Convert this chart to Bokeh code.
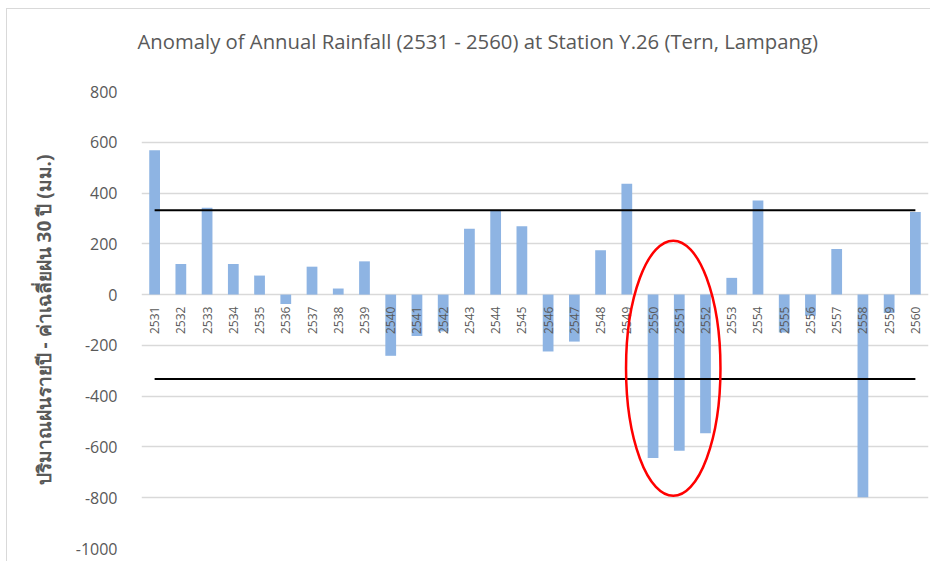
from bokeh.plotting import figure
from bokeh.models import Range1d, FactorRange, FixedTicker, ColumnDataSource, Title
from bokeh.transform import dodge
from bokeh.core.properties import value
from bokeh.embed import file_html
from bokeh.resources import INLINE
import math

years = [str(y) for y in range(2531, 2561)]
anomaly = [569, 121, 342, 121, 75, -37, 110, 24, 131, -241,
           -163, -145, 259, 331, 269, -224, -185, 175, 437, -644,
           -615, -546, 66, 371, -149, -83, 180, -798, -72, 325]
upper_limit = [332] * len(years)
lower_limit = [-332] * len(years)
y_ticks = [800, 600, 400, 200, 0, -200, -400, -600, -800, -1000]
highlight_center = "2551"

TITLE = "Anomaly of Annual Rainfall (2531 - 2560) at Station Y.26 (Tern, Lampang)"
YLABEL = "ปริมาณฝนรายปี - ค่าเฉลี่ยฝน 30 ปี (มม.)"
GRAY = "#595959"

src = ColumnDataSource(dict(year=years, val=anomaly, up=upper_limit, lo=lower_limit))

p = figure(width=924, height=553, output_backend="svg", toolbar_location=None,
           title=None,
           x_range=FactorRange(factors=years, range_padding=0),
           y_range=Range1d(-1000, 800),
           min_border_left=134, min_border_right=3, min_border_top=82, min_border_bottom=14)

# spacer between frame and title (nearest to the frame)
p.add_layout(Title(text=" ", text_font_size="14px", standoff=19,
                   text_color="#ffffff"), "above")
p.add_layout(Title(text=TITLE, align="left", offset=-4, standoff=0,
                   text_font="Open Sans", text_font_size="20.3px",
                   text_font_style="normal", text_color=GRAY), "above")

p.outline_line_color = None
p.xaxis.visible = False
p.xgrid.grid_line_color = None
p.ygrid.grid_line_color = "#d9d9d9"
p.ygrid.grid_line_width = 1.3
p.yaxis.ticker = FixedTicker(ticks=y_ticks)
p.yaxis.major_label_overrides = {t: str(t) for t in y_ticks}
p.yaxis.axis_line_color = None
p.yaxis.major_tick_line_color = None
p.yaxis.minor_tick_line_color = None
p.yaxis.major_label_standoff = 18
p.yaxis.major_label_text_font = "Open Sans"
p.yaxis.major_label_text_font_size = "16px"
p.yaxis.major_label_text_color = GRAY
p.yaxis.axis_label = YLABEL
p.yaxis.axis_label_text_font = "Noto Sans"
p.yaxis.axis_label_text_font_size = "19px"
p.yaxis.axis_label_text_font_style = "bold"
p.yaxis.axis_label_text_color = GRAY
p.yaxis.axis_label_standoff = 16

p.vbar(x="year", top="val", bottom=0, width=0.41, source=src,
       fill_color="#8EB4E3", line_color=None)

p.text(x="year", y=0, text="year", source=src, angle=math.pi / 2,
       text_align="right", text_baseline="middle", y_offset=12,
       text_font=value("Open Sans"), text_font_size="12px", text_color=GRAY)

p.line(x="year", y="up", source=src, line_color="black", line_width=2)
p.line(x="year", y="lo", source=src, line_color="black", line_width=2)

p.ellipse(x=dodge("c", -0.23, range=p.x_range), y="cy", width=3.6, height=1005,
          source=ColumnDataSource(dict(c=[highlight_center], cy=[-290])),
          fill_color=None, line_color="#FF0000", line_width=2.5)

p.styles = {"border-left": "1px solid #d9d9d9", "border-top": "1px solid #d9d9d9",
            "margin-left": "6px", "margin-top": "8px"}

open("out.html", "w").write(file_html(p, INLINE))
